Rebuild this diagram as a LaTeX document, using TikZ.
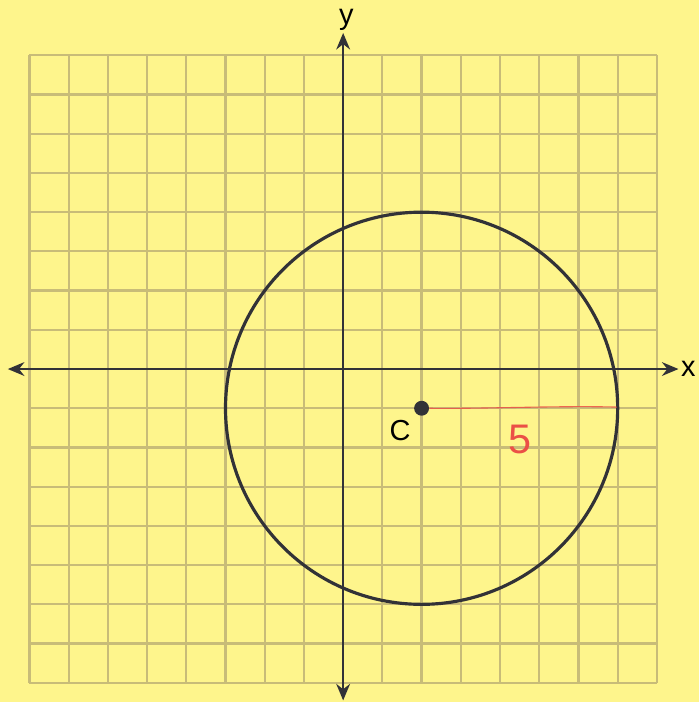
\documentclass[tikz,border=0pt]{standalone}
\usepackage{fontspec}
\setmainfont{Liberation Sans}
\usetikzlibrary{arrows.meta}
\definecolor{paper}{RGB}{254,245,140}
\definecolor{gridc}{RGB}{200,188,120}
\definecolor{ink}{RGB}{50,50,55}
\definecolor{redink}{RGB}{235,80,70}
\tikzset{
  gridline/.style={draw=gridc, line width=1.6pt},
  axis/.style={draw=ink, line width=1.6pt, -{Stealth[length=12pt,width=10pt]}},
  lbl/.style={text=black, font=\fontsize{21}{23}\selectfont, inner sep=0pt},
}
\begin{document}
\begin{tikzpicture}
\fill[paper] (-8.75,-8.49) rectangle (9.08,9.41);
\useasboundingbox (-8.75,-8.49) rectangle (9.08,9.41);
\draw[gridline] (-8,-8) grid (8,8);
\coordinate (xl) at (-8.55,0);
\coordinate (xr) at (8.55,0);
\coordinate (yb) at (0,-8.45);
\coordinate (yt) at (0,8.57);
\draw[axis] (0,0) -- (xr);
\draw[axis] (0,0) -- (xl);
\draw[axis] (0,0) -- (yt);
\draw[axis] (0,0) -- (yb);
\node[lbl] (xlab) at (8.8,0) {x};
\node[lbl, anchor=base] (ylab) at (0.08,8.78) {y};
\draw[ink, line width=2.3pt] (2,-1) circle (5);
\node[circle, fill=ink, inner sep=0pt, minimum size=0.38cm] (c) at (2,-1) {};
\node[lbl] (clab) at (1.45,-1.58) {C};
\coordinate (r) at (6.98,-0.97);
\draw[redink, line width=0.8pt, opacity=0.85] (c.east) .. controls (3.5,-1.02) and (5.5,-0.93) .. (r);
\node[text=redink, font=\fontsize{30}{32}\selectfont, inner sep=0pt] (five) at (4.5,-1.8) {5};
\end{tikzpicture}
\end{document}
